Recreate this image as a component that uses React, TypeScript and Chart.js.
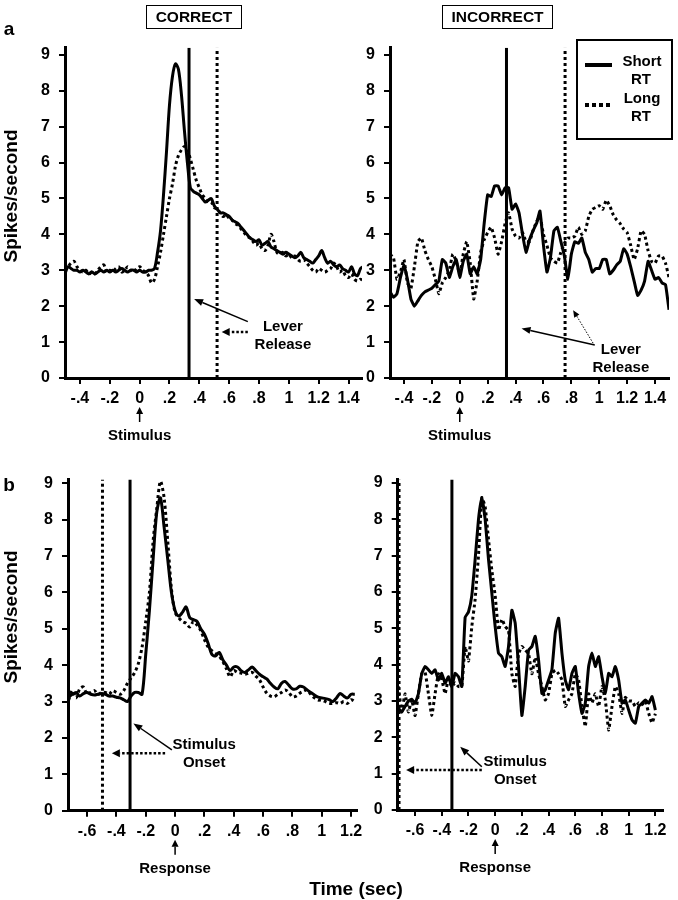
import React, { useEffect, useRef } from "react";
import { Chart, registerables } from "chart.js";

Chart.register(...registerables);

const FONT = '"Liberation Sans", Arial, Helvetica, sans-serif';

// ---------------- time grids (seconds) ----------------
const A_CORRECT_T0 = -0.5;
const A_CORRECT_DT = 0.02;
const A_INCORRECT_T0 = -0.5;
const A_INCORRECT_DT = 0.025;
const B_T0 = -0.725;
const B_DT = 0.025;

// ---------------- firing rates (spikes/second) ----------------
// a: aligned to stimulus, CORRECT
const A_CORRECT_SHORT = [
  2.9, 3.1, 3.05, 3.0, 3.0, 2.95, 3.0, 2.95, 2.9, 2.95,
  2.9, 2.95, 3.0, 2.95, 3.0, 2.95, 3.0, 2.95, 3.0, 3.05,
  3.0, 2.95, 3.0, 3.0, 2.95, 3.0, 2.95, 2.95, 3.0, 3.0,
  3.05, 3.5, 4.1, 5.1, 6.3, 7.6, 8.4, 8.75, 8.6, 7.9,
  6.9, 6.0, 5.3, 5.2, 5.15, 5.1, 5.0, 4.9, 4.95, 5.0,
  4.8, 4.7, 4.6, 4.6, 4.55, 4.5, 4.4, 4.35, 4.3, 4.2,
  4.1, 4.0, 3.9, 3.85, 3.8, 3.85, 3.7, 3.75, 3.8, 3.65,
  3.6, 3.55, 3.5, 3.45, 3.5, 3.45, 3.4, 3.35, 3.4, 3.5,
  3.35, 3.3, 3.25, 3.2, 3.3, 3.4, 3.55, 3.35, 3.2, 3.25,
  3.15, 3.1, 3.15, 3.05, 3.0, 2.95, 3.1, 2.9, 2.85, 3.05,
  3.1,
];
const A_CORRECT_LONG = [
  3.0, 3.1, 3.2, 3.25, 3.1, 3.0, 2.95, 3.0, 2.9, 2.95,
  2.9, 3.0, 3.1, 3.15, 2.95, 3.0, 2.95, 3.05, 3.1, 2.95,
  3.0, 3.1, 3.0, 2.95, 3.05, 3.1, 3.0, 2.95, 2.85, 2.65,
  2.75, 3.1, 3.5, 4.0, 4.5, 5.0, 5.4, 5.9, 6.2, 6.35,
  6.45, 6.35, 6.1, 5.8, 5.5, 5.3, 5.1, 5.0, 4.9, 4.9,
  4.75, 4.7, 4.6, 4.5, 4.55, 4.45, 4.4, 4.3, 4.25, 4.15,
  4.05, 3.95, 3.9, 3.8, 3.7, 3.75, 3.6, 3.55, 3.7, 4.0,
  3.8, 3.5, 3.45, 3.5, 3.4, 3.45, 3.35, 3.4, 3.3, 3.25,
  3.3, 3.2, 3.1, 3.0, 2.95, 3.05, 3.0, 2.95, 3.0, 3.05,
  3.2, 3.1, 2.95, 3.0, 2.85, 2.8, 2.9, 2.75, 2.7, 2.75,
  2.7,
];
// a: aligned to stimulus, INCORRECT
const A_INCORRECT_SHORT = [
  2.4, 2.25, 2.35, 2.8, 3.15, 2.75, 2.2, 2.0, 2.15, 2.3,
  2.4, 2.45, 2.5, 2.6, 2.7, 3.3, 3.2, 2.8, 3.1, 3.3,
  2.8, 3.25, 3.45, 2.9, 3.1, 2.9, 3.3, 4.3, 5.1, 5.05,
  5.35, 5.35, 5.1, 5.3, 5.3, 4.7, 4.85, 4.6, 4.0, 3.5,
  3.85, 4.1, 4.3, 4.65, 3.7, 2.95, 3.35, 4.1, 4.2, 3.8,
  3.4, 2.75, 3.45, 3.8, 3.75, 3.9, 3.5, 3.3, 2.95, 3.05,
  3.05, 3.3, 3.3, 2.9, 3.0, 3.15, 3.25, 3.6, 3.45, 3.1,
  2.7, 2.3, 2.45, 2.7, 3.25, 3.0, 2.75, 2.8, 2.65, 2.6,
  1.9,
];
const A_INCORRECT_LONG = [
  3.45, 3.35, 2.75, 2.95, 3.3, 2.65, 2.5, 3.1, 3.8, 3.9,
  3.55, 3.3, 3.1, 2.75, 2.35, 2.65, 2.8, 3.0, 3.45, 3.25,
  2.9, 3.45, 3.8, 3.2, 2.2, 2.7, 3.5, 3.85, 4.05, 4.2,
  3.9, 3.45, 3.8, 4.3, 4.6, 4.15, 3.95, 3.9, 4.05, 3.8,
  3.8, 4.1, 4.35, 4.5, 4.0, 3.7, 3.35, 3.25, 3.2, 3.5,
  3.75, 3.9, 3.9, 3.95, 4.2, 4.0, 4.1, 4.5, 4.7, 4.75,
  4.8, 4.7, 4.95, 4.8, 4.55, 4.4, 4.3, 4.15, 4.05, 3.7,
  3.3, 3.6, 4.1, 4.0, 3.55, 3.25, 3.2, 3.4, 3.4, 3.2,
  2.8,
];
// b: aligned to response, CORRECT
const B_CORRECT_SHORT = [
  3.13, 3.2, 3.25, 3.15, 3.22, 3.25, 3.2, 3.18, 3.2, 3.22,
  3.2, 3.15, 3.15, 3.12, 3.1, 3.05, 3.0, 3.15, 3.25, 3.25,
  3.2, 4.3, 5.5, 6.9, 8.2, 8.6, 7.8, 6.9, 6.0, 5.5,
  5.35, 5.45, 5.6, 5.3, 5.25, 5.2, 5.0, 4.85, 4.6, 4.3,
  4.25, 4.35, 4.15, 4.0, 3.85, 3.95, 3.95, 3.85, 3.8, 3.87,
  3.95, 3.85, 3.75, 3.68, 3.62, 3.5, 3.4, 3.35, 3.5, 3.55,
  3.45, 3.35, 3.35, 3.42, 3.4, 3.32, 3.25, 3.18, 3.12, 3.1,
  3.08, 3.05, 3.0, 3.1, 3.22, 3.15, 3.1, 3.2, 3.2,
];
const B_CORRECT_LONG = [
  3.05, 3.3, 3.1, 3.35, 3.4, 3.2, 3.25, 3.3, 3.2, 3.25,
  3.25, 3.2, 3.3, 3.25, 3.2, 3.3, 3.5, 3.65, 3.8, 4.05,
  4.5, 5.2, 6.0, 7.4, 8.3, 9.05, 8.6, 7.4, 6.1, 5.45,
  5.3, 5.2, 5.15, 5.05, 5.2, 5.1, 4.95, 4.7, 4.5, 4.4,
  4.32, 4.25, 4.1, 3.9, 3.68, 3.85, 3.8, 3.78, 3.75, 3.78,
  3.8, 3.7, 3.6, 3.4, 3.23, 3.15, 3.13, 3.2, 3.25, 3.32,
  3.25, 3.13, 3.15, 3.23, 3.28, 3.32, 3.2, 3.1, 3.04, 3.04,
  3.0, 2.95, 2.95, 2.97, 2.95, 3.0, 2.95, 3.05, 3.0,
];
// b: aligned to response, INCORRECT
const B_INCORRECT_SHORT = [
  2.8, 2.7, 2.85, 3.0, 3.05, 2.94, 3.2, 3.75, 3.95, 3.86,
  3.76, 3.86, 3.58, 3.76, 3.49, 3.67, 3.4, 3.76, 3.67, 3.4,
  5.3, 5.45, 5.9, 6.9, 8.0, 8.6, 8.0, 6.9, 5.97, 5.05,
  4.32, 4.22, 3.95, 4.5, 5.5, 5.14, 3.95, 2.6, 3.4, 4.4,
  4.5, 4.78, 4.13, 3.21, 3.31, 3.58, 3.86, 4.87, 5.28, 4.32,
  3.58, 3.31, 3.76, 3.95, 3.21, 2.66, 2.94, 3.95, 4.32, 3.95,
  4.22, 3.67, 3.21, 3.76, 3.67, 3.95, 3.58, 2.94, 3.03, 2.75,
  2.48, 2.39, 2.85, 2.94, 3.03, 2.94, 3.12, 2.75,
];
const B_INCORRECT_LONG = [
  3.4, 2.7, 3.2, 2.7, 3.03, 2.6, 3.2, 3.75, 3.8, 3.2,
  2.6, 3.2, 3.75, 3.6, 3.2, 3.6, 3.4, 3.5, 3.4, 3.4,
  4.5, 4.1, 5.05, 5.8, 7.0, 8.6, 8.35, 7.45, 6.6, 5.9,
  4.95, 5.25, 5.05, 4.95, 3.75, 3.4, 4.3, 4.5, 4.4, 4.3,
  3.75, 4.2, 3.75, 3.4, 3.03, 3.2, 3.75, 3.85, 3.75, 3.58,
  2.85, 3.03, 3.2, 3.75, 3.58, 2.85, 2.3, 3.2, 2.95, 3.2,
  2.85, 3.4, 3.03, 2.2, 2.85, 3.4, 3.2, 2.66, 3.1, 3.0,
  3.0, 2.85, 2.95, 2.9, 3.0, 2.66, 2.4, 2.65,
];

// ---------------- event markers (seconds): [short RT, long RT] ----------------
const A_CORRECT_RELEASE = [0.331, 0.519];
const A_INCORRECT_RELEASE = [0.335, 0.755];
const B_CORRECT_ONSET = [-0.307, -0.495];
const B_INCORRECT_ONSET = [-0.324, -0.72];

// ---------------- ticks ----------------
const Y_TICKS = [0, 1, 2, 3, 4, 5, 6, 7, 8, 9];
const A_X_TICKS = [-0.4, -0.2, 0, 0.2, 0.4, 0.6, 0.8, 1, 1.2, 1.4];
const A_X_LABELS = ["-.4", "-.2", "0", ".2", ".4", ".6", ".8", "1", "1.2", "1.4"];
const B_X_TICKS = [-0.6, -0.4, -0.2, 0, 0.2, 0.4, 0.6, 0.8, 1, 1.2];
const B_X_LABELS = ["-.6", "-.4", "-.2", "0", ".2", ".4", ".6", ".8", "1", "1.2"];

type ArrowStyle = "solid" | "dotted" | "thin" | "event";
type Arrow = { from: [number, number]; to: [number, number]; style: ArrowStyle };
type PanelDef = {
  key: string;
  t0: number;
  dt: number;
  short: number[];
  long: number[];
  marks: number[];
  tension: number;
  xMin: number;
  xMax: number;
  yMax: number;
  xTicks: number[];
  xLabels: string[];
  event: string;
  noteLines: string[];
  noteAt: [number, number];
  arrows: Arrow[];
  area: { left: number; right: number; top: number; bottom: number };
  canvas: { x: number; y: number; w: number; h: number };
};

const PANELS: PanelDef[] = [
  {
    key: "aC",
    t0: A_CORRECT_T0, dt: A_CORRECT_DT,
    short: A_CORRECT_SHORT, long: A_CORRECT_LONG,
    marks: A_CORRECT_RELEASE, tension: 0.3,
    xMin: -0.5, xMax: 1.49, yMax: 9.2,
    xTicks: A_X_TICKS, xLabels: A_X_LABELS,
    event: "Stimulus",
    noteLines: ["Lever", "Release"], noteAt: [0.96, 1.42],
    arrows: [
      { from: [0.725, 1.57], to: [0.365, 2.2], style: "solid" },
      { from: [0.725, 1.28], to: [0.55, 1.28], style: "dotted" },
    ],
    area: { left: 65, right: 362, top: 47.7, bottom: 378 },
    canvas: { x: 0, y: 26, w: 372, h: 420 },
  },
  {
    key: "aI",
    t0: A_INCORRECT_T0, dt: A_INCORRECT_DT,
    short: A_INCORRECT_SHORT, long: A_INCORRECT_LONG,
    marks: A_INCORRECT_RELEASE, tension: 0.12,
    xMin: -0.5, xMax: 1.5, yMax: 9.2,
    xTicks: A_X_TICKS, xLabels: A_X_LABELS,
    event: "Stimulus",
    noteLines: ["Lever", "Release"], noteAt: [1.155, 0.78],
    arrows: [
      { from: [0.968, 0.92], to: [0.443, 1.38], style: "solid" },
      { from: [0.956, 0.97], to: [0.813, 1.89], style: "thin" },
    ],
    area: { left: 390, right: 669, top: 47.7, bottom: 378 },
    canvas: { x: 340, y: 26, w: 338, h: 420 },
  },
  {
    key: "bC",
    t0: B_T0, dt: B_DT,
    short: B_CORRECT_SHORT, long: B_CORRECT_LONG,
    marks: B_CORRECT_ONSET, tension: 0.3,
    xMin: -0.73, xMax: 1.24, yMax: 9.1,
    xTicks: B_X_TICKS, xLabels: B_X_LABELS,
    event: "Response",
    noteLines: ["Stimulus", "Onset"], noteAt: [0.198, 1.81],
    arrows: [
      { from: [-0.022, 1.67], to: [-0.284, 2.4], style: "solid" },
      { from: [-0.068, 1.58], to: [-0.431, 1.58], style: "dotted" },
    ],
    area: { left: 68, right: 357, top: 479.6, bottom: 810.7 },
    canvas: { x: 0, y: 456, w: 372, h: 424 },
  },
  {
    key: "bI",
    t0: B_T0, dt: B_DT,
    short: B_INCORRECT_SHORT, long: B_INCORRECT_LONG,
    marks: B_INCORRECT_ONSET, tension: 0.12,
    xMin: -0.73, xMax: 1.257, yMax: 9.1,
    xTicks: B_X_TICKS, xLabels: B_X_LABELS,
    event: "Response",
    noteLines: ["Stimulus", "Onset"], noteAt: [0.15, 1.32],
    arrows: [
      { from: [-0.1, 1.19], to: [-0.262, 1.74], style: "solid" },
      { from: [-0.1, 1.1], to: [-0.667, 1.1], style: "dotted" },
    ],
    area: { left: 397.7, right: 663, top: 479.4, bottom: 810 },
    canvas: { x: 346, y: 456, w: 332, h: 424 },
  },
];

const Y_W = 44;
const X_H = 34;

function toPoints(t0: number, dt: number, vals: number[]) {
  return vals.map((v, i) => ({ x: +(t0 + i * dt).toFixed(4), y: v }));
}

function drawArrow(ctx: CanvasRenderingContext2D, x1: number, y1: number, x2: number, y2: number, style: ArrowStyle) {
  const spec = {
    solid: { w: 1.5, dash: [] as number[], hl: 9, hw: 3.5 },
    dotted: { w: 2.5, dash: [2.5, 2], hl: 8, hw: 4 },
    thin: { w: 1, dash: [1.5, 1.5], hl: 7, hw: 3 },
    event: { w: 1.5, dash: [] as number[], hl: 7, hw: 3.5 },
  }[style];
  const ang = Math.atan2(y2 - y1, x2 - x1);
  const bx = x2 - Math.cos(ang) * spec.hl;
  const by = y2 - Math.sin(ang) * spec.hl;
  ctx.beginPath();
  ctx.setLineDash(spec.dash);
  ctx.lineWidth = spec.w;
  ctx.moveTo(x1, y1);
  ctx.lineTo(bx, by);
  ctx.stroke();
  ctx.setLineDash([]);
  ctx.beginPath();
  ctx.moveTo(x2, y2);
  ctx.lineTo(bx + Math.sin(ang) * spec.hw, by - Math.cos(ang) * spec.hw);
  ctx.lineTo(bx - Math.sin(ang) * spec.hw, by + Math.cos(ang) * spec.hw);
  ctx.closePath();
  ctx.fill();
}

function makeNotesPlugin(def: PanelDef) {
  return {
    id: "notes_" + def.key,
    afterDraw(chart: any) {
      const { ctx, chartArea } = chart;
      const xs = chart.scales.x;
      const ys = chart.scales.y;
      const px = (v: number) => xs.getPixelForValue(v);
      const py = (v: number) => ys.getPixelForValue(v);
      ctx.save();
      ctx.fillStyle = "#000";
      ctx.strokeStyle = "#000";
      ctx.font = `bold 15px ${FONT}`;
      ctx.textAlign = "center";
      ctx.textBaseline = "middle";
      def.noteLines.forEach((line, i) => {
        ctx.fillText(line, px(def.noteAt[0]), py(def.noteAt[1]) + i * 18);
      });
      def.arrows.forEach((a) => drawArrow(ctx, px(a.from[0]), py(a.from[1]), px(a.to[0]), py(a.to[1]), a.style));
      const x0 = px(0);
      drawArrow(ctx, x0, chartArea.bottom + 44, x0, chartArea.bottom + 29, "event");
      ctx.fillText(def.event, x0, chartArea.bottom + 58);
      ctx.restore();
    },
  };
}

function Panel({ def }: { def: PanelDef }) {
  const ref = useRef<HTMLCanvasElement>(null);
  useEffect(() => {
    const { area, canvas } = def;
    const tickFont = { family: FONT, size: 16, weight: "bold" as const };
    const chart = new Chart(ref.current!, {
      type: "line",
      data: {
        datasets: [
          {
            data: toPoints(def.t0, def.dt, def.short),
            borderColor: "#000",
            borderWidth: 3,
            pointRadius: 0,
            tension: def.tension,
            fill: false,
          },
          {
            data: toPoints(def.t0, def.dt, def.long),
            borderColor: "#000",
            borderWidth: 3,
            borderDash: [3, 3],
            borderCapStyle: "butt",
            pointRadius: 0,
            tension: def.tension,
            fill: false,
          },
          {
            data: [{ x: def.marks[0], y: 0 }, { x: def.marks[0], y: def.yMax }],
            borderColor: "#000",
            borderWidth: 3,
            pointRadius: 0,
            fill: false,
          },
          {
            data: [{ x: def.marks[1], y: 0 }, { x: def.marks[1], y: def.yMax }],
            borderColor: "#000",
            borderWidth: 3,
            borderDash: [3, 3],
            pointRadius: 0,
            fill: false,
          },
        ],
      },
      options: {
        responsive: false,
        animation: false,
        events: [],
        layout: {
          padding: {
            left: area.left - canvas.x - Y_W,
            right: canvas.x + canvas.w - area.right,
            top: area.top - canvas.y,
            bottom: canvas.y + canvas.h - area.bottom - X_H,
          },
        },
        plugins: { legend: { display: false }, tooltip: { enabled: false } },
        scales: {
          x: {
            type: "linear",
            min: def.xMin,
            max: def.xMax,
            afterFit: (s: any) => {
              s.height = X_H;
            },
            afterBuildTicks: (s: any) => {
              s.ticks = def.xTicks.map((v) => ({ value: v }));
            },
            ticks: {
              autoSkip: false,
              maxRotation: 0,
              minRotation: 0,
              color: "#000",
              font: tickFont,
              padding: 5,
              callback: (_v: any, i: number) => def.xLabels[i],
            },
            grid: { drawOnChartArea: false, drawTicks: true, tickLength: 6, color: "#000", lineWidth: 2 },
            border: { display: true, color: "#000", width: 3 },
          },
          y: {
            type: "linear",
            min: 0,
            max: def.yMax,
            afterFit: (s: any) => {
              s.width = Y_W;
            },
            afterBuildTicks: (s: any) => {
              s.ticks = Y_TICKS.map((v) => ({ value: v }));
            },
            ticks: {
              color: "#000",
              font: tickFont,
              padding: 9,
              callback: (v: any) => String(v),
            },
            grid: { drawOnChartArea: false, drawTicks: true, tickLength: 6, color: "#000", lineWidth: 2 },
            border: { display: true, color: "#000", width: 3 },
          },
        },
      } as any,
      plugins: [makeNotesPlugin(def)],
    });
    return () => chart.destroy();
  }, [def]);
  return (
    <canvas
      ref={ref}
      width={def.canvas.w}
      height={def.canvas.h}
      style={{ position: "absolute", left: def.canvas.x, top: def.canvas.y, width: def.canvas.w, height: def.canvas.h }}
    />
  );
}

function Label({ x, y, size, children, rotate }: { x: number; y: number; size: number; children: React.ReactNode; rotate?: boolean }) {
  return (
    <div
      style={{
        position: "absolute",
        left: x,
        top: y,
        transform: `translate(-50%, -50%)${rotate ? " rotate(-90deg)" : ""}`,
        font: `bold ${size}px ${FONT}`,
        lineHeight: 1,
        whiteSpace: "nowrap",
        color: "#000",
      }}
    >
      {children}
    </div>
  );
}

function TitleBox({ left, width, text }: { left: number; width: number; text: string }) {
  return (
    <div
      style={{
        position: "absolute",
        left,
        top: 5,
        width,
        height: 24,
        boxSizing: "border-box",
        border: "1.5px solid #000",
        display: "flex",
        alignItems: "center",
        justifyContent: "center",
        font: `bold 15.5px ${FONT}`,
        color: "#000",
      }}
    >
      {text}
    </div>
  );
}

export default function App() {
  return (
    <div style={{ position: "absolute", left: 0, top: 0, width: 678, height: 900, background: "#fff", overflow: "hidden" }}>
      {PANELS.map((p) => (
        <Panel key={p.key} def={p} />
      ))}
      <TitleBox left={146} width={96} text="CORRECT" />
      <TitleBox left={442} width={111} text="INCORRECT" />
      <Label x={9} y={28} size={19}>a</Label>
      <Label x={9} y={484} size={19}>b</Label>
      <Label x={10} y={196} size={19} rotate>Spikes/second</Label>
      <Label x={10} y={617} size={19} rotate>Spikes/second</Label>
      <Label x={356} y={888} size={19}>Time (sec)</Label>
      {/* legend */}
      <div style={{ position: "absolute", left: 576, top: 39, width: 97, height: 101, boxSizing: "border-box", border: "2px solid #000" }} />
      <div style={{ position: "absolute", left: 585, top: 63, width: 27, height: 4, background: "#000" }} />
      <div
        style={{
          position: "absolute",
          left: 585,
          top: 103,
          width: 27,
          height: 4,
          background: "repeating-linear-gradient(90deg, #000 0 4px, transparent 4px 7px)",
        }}
      />
      <Label x={642} y={60} size={15}>Short</Label>
      <Label x={641} y={78} size={15}>RT</Label>
      <Label x={642} y={97} size={15}>Long</Label>
      <Label x={641} y={115} size={15}>RT</Label>
    </div>
  );
}
